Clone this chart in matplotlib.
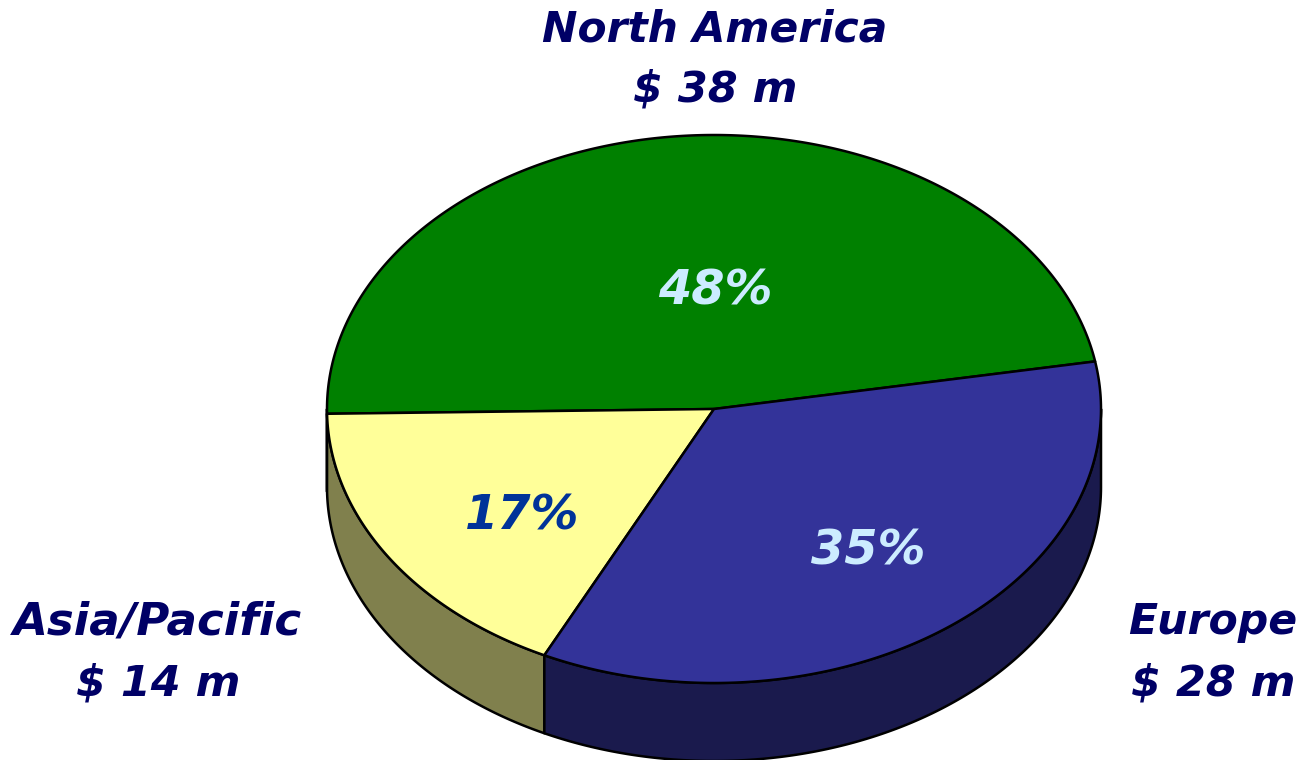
import numpy as np
from matplotlib import pyplot as plt
from matplotlib.patches import Polygon

regions = ['North America', 'Asia/Pacific', 'Europe']
revenue = [38, 14, 28]
percent_labels = ['48%', '17%', '35%']
value_labels = ['$ 38 m', '$ 14 m', '$ 28 m']

top_colors = ['#008000', '#FFFF99', '#333399']
side_colors = ['#004000', '#80804D', '#1A1A4D']
pct_colors = ['#CCECFF', '#003399', '#CCECFF']

# pie geometry in pixels
cx, cy = 714, 409
rx, ry = 387, 274
depth = 78
start_angle = 10

# where the region name / value pairs go
name_pos = [(715, 29), (158, 622), (1213, 622)]
value_pos = [(715, 90), (158, 684), (1213, 684)]
name_sizes = [30.5, 32.5, 30.7]
pct_pos = [(715, 291), (522, 516), (868, 551)]

fig = plt.figure(figsize=(13.02, 7.6), dpi=100)
ax = fig.add_axes([0, 0, 1, 1])
ax.set_xlim(0, 1302)
ax.set_ylim(760, 0)
ax.axis('off')


def rim(a0, a1):
    t = np.radians(np.linspace(a0, a1, max(int(abs(a1 - a0)) * 2, 2)))
    return cx + rx * np.cos(t), cy - ry * np.sin(t)


angles = np.cumsum([0] + revenue) / sum(revenue) * 360 + start_angle

# side wall first, only the front half (180..360) shows
for i in range(len(revenue)):
    a0 = max(angles[i], 180)
    a1 = min(angles[i + 1], 360)
    if a1 <= a0:
        continue
    x, y = rim(a0, a1)
    pts = np.r_[np.c_[x, y], np.c_[x[::-1], y[::-1] + depth]]
    ax.add_patch(Polygon(pts, closed=True, fc=side_colors[i], ec='black', lw=1.8,
                         joinstyle='round', clip_on=False))

# top face
for i in range(len(revenue)):
    x, y = rim(angles[i], angles[i + 1])
    pts = np.r_[[[cx, cy]], np.c_[x, y]]
    ax.add_patch(Polygon(pts, closed=True, fc=top_colors[i], ec='black', lw=1.8,
                         joinstyle='round'))
    ax.text(pct_pos[i][0], pct_pos[i][1], percent_labels[i], color=pct_colors[i],
            fontsize=34.5, fontweight='bold', fontstyle='italic', ha='center', va='center')

for i in range(len(regions)):
    ax.text(name_pos[i][0], name_pos[i][1], regions[i], color='#000066',
            fontsize=name_sizes[i], fontweight='bold', fontstyle='italic',
            ha='center', va='center')
    ax.text(value_pos[i][0], value_pos[i][1], value_labels[i], color='#000066',
            fontsize=31, fontweight='bold', fontstyle='italic', ha='center', va='center')

plt.savefig('out.png', dpi=100)
